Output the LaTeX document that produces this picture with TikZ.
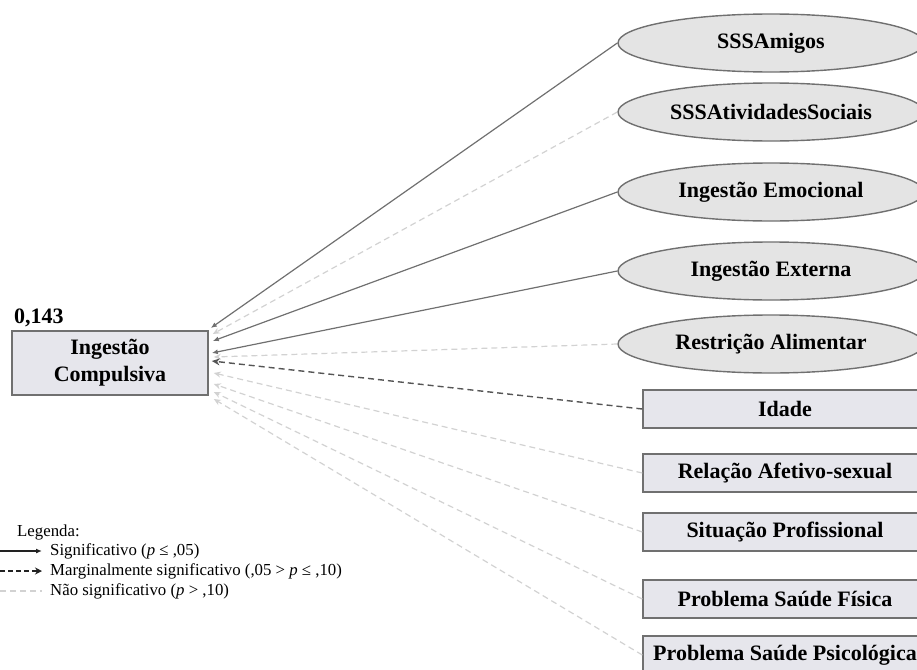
\documentclass[tikz,border=0pt]{standalone}
\usepackage{fontspec}
\setmainfont{Liberation Serif}
\usetikzlibrary{arrows.meta,shapes.geometric}
\definecolor{edgegray}{HTML}{707070}
\definecolor{lightdash}{HTML}{D2D2D2}
\definecolor{darkdash}{HTML}{555555}
\definecolor{legdark}{HTML}{222222}
\definecolor{boxfill}{HTML}{E6E6EC}
\definecolor{ellfill}{HTML}{E4E4E4}
\tikzset{
  bigfont/.style={font=\bfseries\fontsize{22}{27}\selectfont},
  ell/.style={ellipse, draw=edgegray, line width=1.4pt, fill=ellfill, minimum width=306pt, minimum height=58pt, inner sep=0pt, bigfont},
  varbox/.style={rectangle, draw=edgegray, line width=1.4pt, fill=boxfill, minimum width=284pt, minimum height=38pt, inner sep=1pt, bigfont},
  mainbox/.style={rectangle, draw=edgegray, line width=1.6pt, fill=boxfill, minimum width=196pt, minimum height=64pt, align=center, bigfont},
  sig/.style={draw=edgegray, line width=1.2pt, -{Latex[length=6pt,width=5pt]}},
  marg/.style={draw=darkdash, line width=1.4pt, dash pattern=on 6pt off 4pt, -{Stealth[length=8pt,width=7pt]}},
  nsig/.style={draw=lightdash, line width=1.2pt, dash pattern=on 6pt off 4pt, -{Stealth[length=7pt,width=6pt]}},
  nsigleg/.style={draw=lightdash, line width=1.2pt, dash pattern=on 6pt off 4pt},
  legtext/.style={anchor=west, inner sep=0pt, font=\fontsize{16.8}{20}\selectfont},
}
\begin{document}
\begin{tikzpicture}[x=1pt,y=-1pt]
\useasboundingbox (0,0) rectangle (917,669);

% main node
\node[mainbox] (main) at (110,363) {Ingestão\\Compulsiva};
\node[anchor=west, inner sep=0pt, bigfont] (r2) at (14,318) {0,143};

% latent (ellipses)
\node[ell] (amigos) at (771,43) {SSSAmigos};
\node[ell] (ativ) at (771,112) {SSSAtividadesSociais};
\node[ell] (emoc) at (771,192) {Ingestão Emocional};
\node[ell] (ext) at (771,271) {Ingestão Externa};
\node[ell] (restr) at (771,344) {Restrição Alimentar};

% observed (boxes)
\node[varbox] (idade) at (785,409) {Idade};
\node[varbox] (relac) at (785,473) {Relação Afetivo-sexual};
\node[varbox] (situ) at (785,532) {Situação Profissional};
\node[varbox] (fis) at (785,599) {Problema Saúde Física};
\node[varbox] (psic) at (785,655) {Problema Saúde Psicológica};

% connectors
\draw[sig]  (amigos.west) -- ([xshift=2pt,yshift=35pt]main.east);
\draw[nsig] (ativ.west)   -- ([xshift=4pt,yshift=29pt]main.east);
\draw[sig]  (emoc.west)   -- ([xshift=4pt,yshift=22pt]main.east);
\draw[sig]  (ext.west)    -- ([xshift=3pt,yshift=10pt]main.east);
\draw[nsig] (restr.west)  -- ([xshift=5pt,yshift=6pt]main.east);
\draw[marg] (idade.west)  -- ([xshift=3pt,yshift=2pt]main.east);
\draw[nsig] (relac.west)  -- ([xshift=5pt,yshift=-10pt]main.east);
\draw[nsig] (situ.west)   -- ([xshift=5pt,yshift=-21pt]main.east);
\draw[nsig] (fis.west)    -- ([xshift=5pt,yshift=-29pt]main.east);
\draw[nsig] (psic.west)   -- ([xshift=5pt,yshift=-36pt]main.east);

% legend
\node[legtext] (leg) at (17,532) {Legenda:};
\node[legtext] (l1) at (50,551) {Significativo (\textit{p} ≤ ,05)};
\node[legtext] (l2) at (50,571) {Marginalmente significativo (,05 > \textit{p} ≤ ,10)};
\node[legtext] (l3) at (50,591) {Não significativo (\textit{p} > ,10)};
\coordinate (s1) at (0,551);
\coordinate (s2) at (0,571);
\coordinate (s3) at (0,591);
\draw[draw=legdark, line width=1.3pt, -{Latex[length=6pt,width=5pt]}] (s1) -- ([xshift=-8pt]l1.west);
\draw[draw=legdark, line width=1.3pt, dash pattern=on 5pt off 3pt, -{Stealth[length=7pt,width=7pt]}] (s2) -- ([xshift=-8pt]l2.west);
\draw[nsigleg] (s3) -- ([xshift=-8pt]l3.west);
\end{tikzpicture}
\end{document}
